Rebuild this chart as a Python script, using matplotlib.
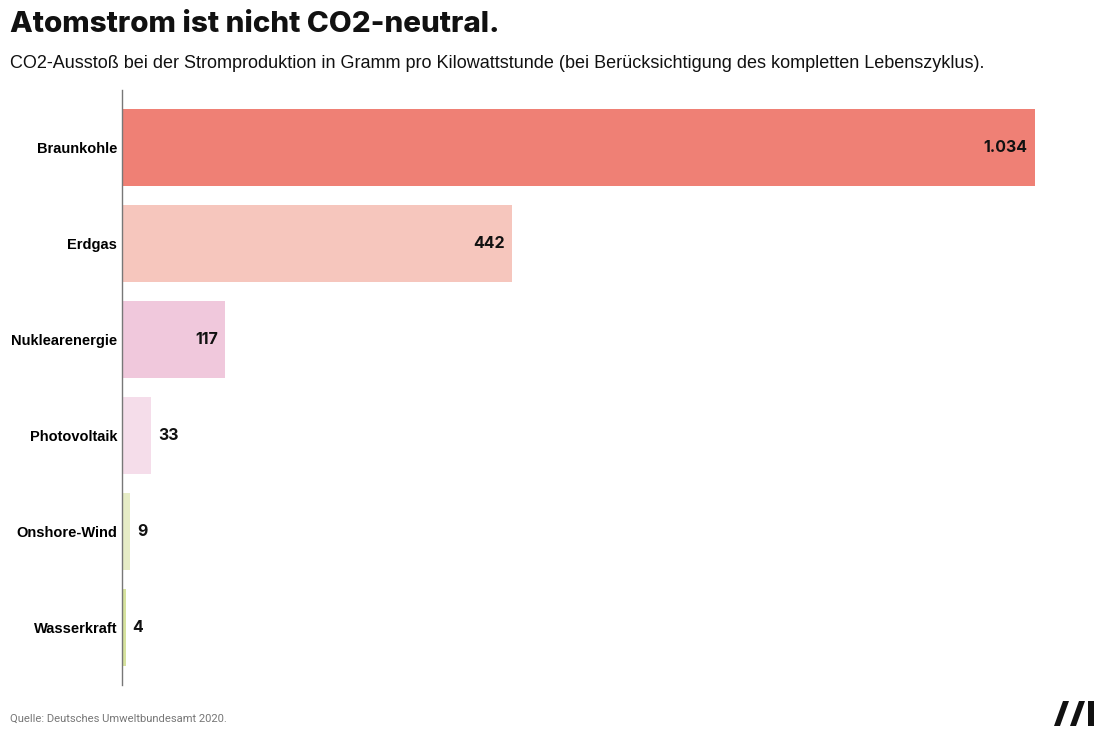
import matplotlib
matplotlib.use("Agg")
import matplotlib.pyplot as plt
from matplotlib.patches import Polygon

categories = ["Braunkohle", "Erdgas", "Nuklearenergie", "Photovoltaik", "Onshore-Wind", "Wasserkraft"]
values = [1034, 442, 117, 33, 9, 4]
value_labels = ["1.034", "442", "117", "33", "9", "4"]
colors = ["#EF8075", "#F6C6BD", "#F0C8DC", "#F5DDEA", "#E6ECC6", "#D6E29E"]

W, H = 1104, 736
fig = plt.figure(figsize=(W / 100, H / 100), dpi=100)
fig.patch.set_facecolor("white")

def fx(px):
    return px / W

def fy(py):
    return 1 - py / H

ax = fig.add_axes([fx(122), fy(685), fx(1093) - fx(122), fy(90) - fy(685)])
y = list(range(len(categories)))
ax.barh(y, values, height=0.8, color=colors)
ax.set_xlim(0, 1100)
ax.set_ylim(5.6, -0.6)
for s in ["top", "right", "bottom"]:
    ax.spines[s].set_visible(False)
ax.spines["left"].set_color("#777777")
ax.spines["left"].set_linewidth(1)
ax.set_xticks([])
ax.set_yticks(y)
ax.set_yticklabels(categories, fontfamily="Liberation Sans", fontweight="bold", fontsize=10.5)
ax.tick_params(axis="y", length=0, pad=3.5)

for i, (v, lab) in enumerate(zip(values, value_labels)):
    if v > 80:
        ax.text(v - 8, i, lab, ha="right", va="center", fontfamily="Inter",
                fontweight="bold", fontsize=11.5, color="#111111")
    else:
        ax.text(v + 8, i, lab, ha="left", va="center", fontfamily="Inter",
                fontweight="bold", fontsize=11.5, color="#111111")

fig.text(fx(10), fy(24), "Atomstrom ist nicht CO2-neutral.", ha="left", va="center",
         fontfamily="Inter", fontweight="heavy", fontsize=21.3, color="#111111")
fig.text(fx(10), fy(64), "CO2-Ausstoß bei der Stromproduktion in Gramm pro Kilowattstunde (bei Berücksichtigung des kompletten Lebenszyklus).",
         ha="left", va="center", fontfamily="Liberation Sans", fontsize=12.97, color="#111111")
fig.text(fx(10), fy(719), "Quelle: Deutsches Umweltbundesamt 2020.", ha="left", va="center",
         fontfamily="Roboto", fontsize=8.1, color="#777777")

# logo
logo_polys = [
    [(1054, 726), (1060, 726), (1069, 701), (1063, 701)],
    [(1070, 726), (1076, 726), (1085, 701), (1079, 701)],
    [(1088, 726), (1094, 726), (1094, 701), (1088, 701)],
]
for poly in logo_polys:
    fig.add_artist(Polygon([(fx(a), fy(b)) for a, b in poly], closed=True,
                           transform=fig.transFigure, facecolor="#111111", edgecolor="none"))

fig.savefig("out.png", dpi=100, facecolor="white")
